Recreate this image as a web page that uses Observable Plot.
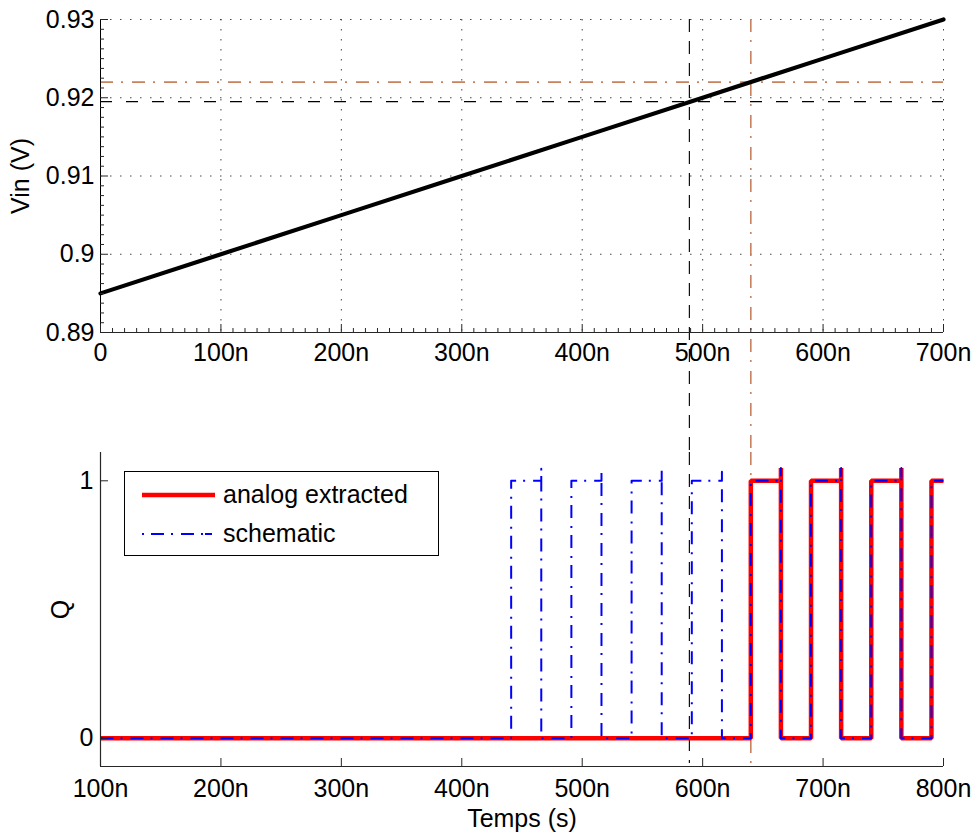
<!DOCTYPE html>
<html>
<head>
<meta charset="utf-8">
<script src="https://cdn.jsdelivr.net/npm/d3@7"></script>
<script src="https://cdn.jsdelivr.net/npm/@observablehq/plot@0.6"></script>
<style>
  html, body { margin: 0; padding: 0; background: #fff; }
  #wrap { position: relative; width: 973px; height: 832px; font-family: "Liberation Sans", Arial, Helvetica, sans-serif; }
  #wrap svg { position: absolute; left: 0; }
  #legend { position: absolute; left: 124px; top: 471px; width: 315px; height: 85px; border: 1px solid #000; background: #fff; font-size: 25px; box-sizing: border-box; }
  .lrow { position: absolute; left: 0; display: flex; align-items: center; }
  .lrow span { margin-left: 8px; }
</style>
</head>
<body>
<div id="wrap"></div>
<script>
// ---- Top panel data: Vin ramp (time in ns) ----
const vinTime  = [0, 100, 200, 300, 400, 500, 600, 700];
const vinValue = [0.895, 0.900, 0.905, 0.910, 0.915, 0.920, 0.925, 0.930];

// Cursor lines (top panel time axis) and their Vin levels
const cursorTimeTop    = [489, 540];
const cursorTimeBottom = [589, 640];
const cursorLevel      = [0.9195, 0.922];

// ---- Bottom panel data: Q outputs (time in ns) ----
const analogTime  = [100, 640, 640, 665, 665, 665, 690, 690, 715, 715, 715, 740, 740, 765, 765, 765, 790, 790, 800];
const analogValue = [0,   0,   1,   1,   1.05, 0,  0,   1,   1,   1.05, 0,  0,   1,   1,   1.05, 0,  0,   1,   1];

const schematicTime  = [100, 441, 441, 466, 466, 466, 491, 491, 516, 516, 516, 541, 541, 566, 566, 566, 591, 591, 616, 616, 616, 640, 640, 665, 665, 665, 690, 690, 715, 715, 715, 740, 740, 765, 765, 765, 790, 790, 800];
const schematicValue = [0,   0,   1,   1,   1.047, 0, 0,   1,   1,   1.04, 0,  0,   1,   1,   1.05, 0,  0,   1,   1,   1.035, 0, 0,   1,   1,   1.05, 0,  0,   1,   1,   1.05, 0,  0,   1,   1,   1.05, 0,  0,   1,   1];

// ---- Ticks ----
const xTicksTop = [0, 100, 200, 300, 400, 500, 600, 700];
const xTickLabelsTop = ["0", "100n", "200n", "300n", "400n", "500n", "600n", "700n"];
const yTicksTop = [0.89, 0.90, 0.91, 0.92, 0.93];
const yTickLabelsTop = ["0.89", "0.9", "0.91", "0.92", "0.93"];
const xTicksBottom = [100, 200, 300, 400, 500, 600, 700, 800];
const xTickLabelsBottom = ["100n", "200n", "300n", "400n", "500n", "600n", "700n", "800n"];
const yTicksBottom = [0, 1];
const yTickLabelsBottom = ["0", "1"];

const seriesNames = ["analog extracted", "schematic"];
const yLabelTop = "Vin (V)";
const yLabelBottom = "Q";
const xLabelBottom = "Temps (s)";

const ORANGE = "#c8825e";
const AXIS = "#262626";
const FONT = "'Liberation Sans', Arial, Helvetica, sans-serif";

const vin = vinTime.map((t, i) => ({t, v: vinValue[i]}));
const analog = analogTime.map((t, i) => ({t, v: analogValue[i]}));
const schematic = schematicTime.map((t, i) => ({t, v: schematicValue[i]}));

const minorX = d3.range(0, 701, 10).filter(d => d % 100 !== 0);
const minorY = d3.range(0, 33).map(k => 0.89 + k * 0.00125).filter((d, k) => k % 8 !== 0);

const styleBase = {fontFamily: FONT, fontSize: "25px", color: "#000", background: "none", overflow: "visible"};

const topPlot = Plot.plot({
  width: 973, height: 452,
  marginLeft: 100, marginRight: 30, marginTop: 19, marginBottom: 120,
  style: styleBase,
  x: {domain: [0, 700], label: null},
  y: {domain: [0.89, 0.93], label: null},
  marks: [
    Plot.gridX(xTicksTop.slice(1), {stroke: "#333", strokeOpacity: 0.9, strokeWidth: 1, strokeDasharray: "1.5,8.5"}),
    Plot.gridY(yTicksTop.slice(1), {stroke: "#333", strokeOpacity: 0.9, strokeWidth: 1, strokeDasharray: "1.5,8.5"}),
    Plot.ruleY([cursorLevel[0]], {stroke: "#000", strokeWidth: 1.2, strokeDasharray: "12,14"}),
    Plot.ruleY([cursorLevel[1]], {stroke: ORANGE, strokeWidth: 1.6, strokeDasharray: "13,8,2,9"}),
    Plot.ruleX([cursorTimeTop[0]], {stroke: "#111", strokeWidth: 1.2, strokeDasharray: "13,9", insetBottom: -122}),
    Plot.ruleX([cursorTimeTop[1]], {stroke: ORANGE, strokeWidth: 1.6, strokeDasharray: "13,8,2,9", insetBottom: -122}),
    Plot.line(vin, {x: "t", y: "v", stroke: "#000", strokeWidth: 4.2}),
    Plot.ruleX([0]),
    Plot.ruleY([0.89], {stroke: AXIS, strokeWidth: 1.2}),
    Plot.axisX(xTicksTop, {anchor: "bottom", tickSize: -8, tickPadding: 19, stroke: AXIS, tickFormat: (d, i) => xTickLabelsTop[i], fontSize: 25, fill: "#000"}),
    Plot.axisX(minorX, {anchor: "bottom", tickSize: -4, stroke: AXIS, tickFormat: () => ""}),
    Plot.axisY(yTicksTop, {anchor: "left", tickSize: -8, tickPadding: 14, stroke: AXIS, tickFormat: (d, i) => yTickLabelsTop[i], fontSize: 25, fill: "#000"}),
    Plot.axisY(minorY, {anchor: "left", tickSize: -4, stroke: AXIS, tickFormat: () => ""}),
    Plot.text([yLabelTop], {frameAnchor: "left", dx: -80, rotate: -90, textAnchor: "middle", lineAnchor: "middle", fontSize: 25, fill: "#000"})
  ]
});
topPlot.style.top = "0px";

const bottomPlot = Plot.plot({
  width: 973, height: 380,
  marginLeft: 100, marginRight: 30, marginTop: 0, marginBottom: 66,
  style: styleBase,
  x: {domain: [100, 800], label: null},
  y: {domain: [-0.11, 1.11], label: null},
  marks: [
    Plot.ruleX([cursorTimeBottom[0]], {stroke: "#111", strokeWidth: 1.2, strokeDasharray: "13,9", insetBottom: 3}),
    Plot.ruleX([cursorTimeBottom[1]], {stroke: ORANGE, strokeWidth: 1.6, strokeDasharray: "13,8,2,9", insetBottom: -4}),
    Plot.line(analog, {x: "t", y: "v", stroke: "#ff0000", strokeWidth: 4.5, strokeLinejoin: "miter", strokeLinecap: "butt"}),
    Plot.line(schematic, {x: "t", y: "v", stroke: "#0000ff", strokeWidth: 2, strokeDasharray: "13,7,2,8", strokeLinecap: "butt"}),
    Plot.ruleX([100], {stroke: AXIS, strokeWidth: 1.2}),
    Plot.ruleY([-0.11], {stroke: AXIS, strokeWidth: 1.2}),
    Plot.axisX(xTicksBottom, {anchor: "bottom", tickSize: -8, tickPadding: 21, stroke: AXIS, tickFormat: (d, i) => xTickLabelsBottom[i], fontSize: 25, fill: "#000"}),
    Plot.axisY(yTicksBottom, {anchor: "left", tickSize: -8, tickPadding: 15, stroke: AXIS, tickFormat: (d, i) => yTickLabelsBottom[i], fontSize: 25, fill: "#000"}),
    Plot.text([yLabelBottom], {frameAnchor: "left", dx: -40, rotate: -90, textAnchor: "middle", lineAnchor: "middle", fontSize: 25, fill: "#000"}),
    Plot.text([xLabelBottom], {frameAnchor: "bottom", dy: 52, textAnchor: "middle", lineAnchor: "middle", fontSize: 25, fill: "#000"})
  ]
});
bottomPlot.style.top = "452px";

const wrap = document.getElementById("wrap");
wrap.appendChild(topPlot);
wrap.appendChild(bottomPlot);

// Legend
const legend = document.createElement("div");
legend.id = "legend";
legend.innerHTML = `
  <div class="lrow" style="top:8px;left:17px;">
    <svg width="73" height="24" style="position:static"><line x1="0" x2="73" y1="12" y2="12" stroke="#ff0000" stroke-width="4.5"/></svg>
    <span>${seriesNames[0]}</span>
  </div>
  <div class="lrow" style="top:47px;left:17px;">
    <svg width="73" height="24" style="position:static"><line x1="0" x2="73" y1="12" y2="12" stroke="#0000ff" stroke-width="2" stroke-dasharray="2,7,13,7,2,8,13,7,2"/></svg>
    <span>${seriesNames[1]}</span>
  </div>`;
wrap.appendChild(legend);
</script>
</body>
</html>
